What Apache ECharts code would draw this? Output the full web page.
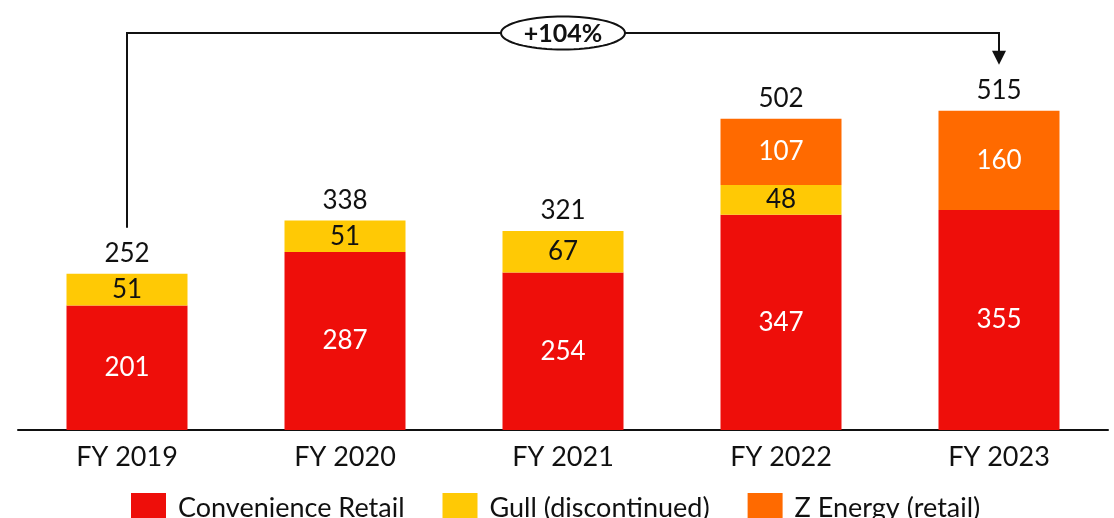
<!DOCTYPE html>
<html>
<head>
<meta charset="utf-8">
<script src="https://cdn.jsdelivr.net/npm/echarts@6/dist/echarts.min.js"></script>
<style>
  html, body { margin: 0; padding: 0; background: #fff; }
  #main { width: 1114px; height: 518px; }
</style>
</head>
<body>
<div id="main"></div>
<script>
const years = ['FY 2019', 'FY 2020', 'FY 2021', 'FY 2022', 'FY 2023']
const retail = [201, 287, 254, 347, 355]
const gull = [51, 51, 67, 48, null]
const zEnergy = [null, null, null, 107, 160]
const totals = [252, 338, 321, 502, 515]
const growth = '+104%'

const FONT = 'Lato'

let myChart = echarts.init(document.getElementById('main'))

const inLabel = (color) => ({
    show: true,
    position: 'inside',
    color: color,
    fontSize: 26,
    fontFamily: FONT
})

var option = {
    animation: false,
    textStyle: { fontFamily: FONT },
    grid: { left: 18, right: 6, top: 58, bottom: 88 },
    legend: {
        top: 488,
        left: 126,
        itemWidth: 35,
        itemHeight: 30,
        itemGap: 38,
        icon: 'rect',
        data: ['Convenience Retail', 'Gull (discontinued)', 'Z Energy (retail)'],
        textStyle: { fontSize: 27, color: '#111', fontFamily: FONT, padding: [0, 0, 0, 7] }
    },
    xAxis: {
        type: 'category',
        data: years,
        axisLine: { lineStyle: { color: '#111', width: 2 } },
        axisTick: { show: false },
        axisLabel: { fontSize: 27, color: '#111', margin: 14, fontFamily: FONT }
    },
    yAxis: {
        type: 'value',
        min: 0,
        max: 600,
        show: false,
        splitLine: { show: false }
    },
    series: [
        {
            name: 'Convenience Retail', type: 'bar', stack: 'a', barWidth: 121,
            itemStyle: { color: '#EE0E0A' },
            label: inLabel('#fff'),
            data: retail
        },
        {
            name: 'Gull (discontinued)', type: 'bar', stack: 'a',
            itemStyle: { color: '#FFC905' },
            label: inLabel('#111'),
            data: gull
        },
        {
            name: 'Z Energy (retail)', type: 'bar', stack: 'a',
            itemStyle: { color: '#FF6A00' },
            label: inLabel('#fff'),
            data: zEnergy
        },
        {
            name: 'Total', type: 'bar', stack: 'a',
            itemStyle: { color: 'transparent' },
            label: {
                show: true, position: 'top', distance: 7,
                fontSize: 26, color: '#111', fontFamily: FONT,
                formatter: (p) => totals[p.dataIndex]
            },
            data: totals.map(() => 0)
        }
    ]
};
myChart.setOption(option);

// growth bracket from first to last year, placed with the chart's own scales
const x0 = myChart.convertToPixel({ xAxisIndex: 0 }, years[0])
const x1 = myChart.convertToPixel({ xAxisIndex: 0 }, years[years.length - 1])
const xm = myChart.convertToPixel({ xAxisIndex: 0 }, years[2])
const yStart = myChart.convertToPixel({ yAxisIndex: 0 }, totals[0]) - 46
const yEnd = myChart.convertToPixel({ yAxisIndex: 0 }, totals[totals.length - 1]) - 46
const yTop = 33

// oval around the growth label
const ovalPts = []
for (let i = 0; i < 72; i++) {
    const a = i / 72 * Math.PI * 2
    ovalPts.push([xm + 62 * Math.cos(a), yTop + 16.5 * Math.sin(a)])
}

myChart.setOption({
    graphic: [
        {
            type: 'polyline',
            shape: { points: [[x0, yStart], [x0, yTop], [x1, yTop], [x1, yEnd - 12]] },
            style: { stroke: '#111', lineWidth: 2, fill: null }
        },
        {
            type: 'polygon',
            shape: { points: [[x1 - 7, yEnd - 14], [x1 + 7, yEnd - 14], [x1, yEnd]] },
            style: { fill: '#111' }
        },
        {
            type: 'polygon',
            shape: { points: ovalPts },
            style: { fill: '#fff', stroke: '#111', lineWidth: 2 }
        },
        {
            type: 'text',
            x: xm, y: yTop + 1,
            style: {
                text: growth, fontSize: 25, fontWeight: 'bold', fontFamily: FONT,
                fill: '#111', align: 'center', verticalAlign: 'middle'
            }
        }
    ]
})
</script>
</body>
</html>
